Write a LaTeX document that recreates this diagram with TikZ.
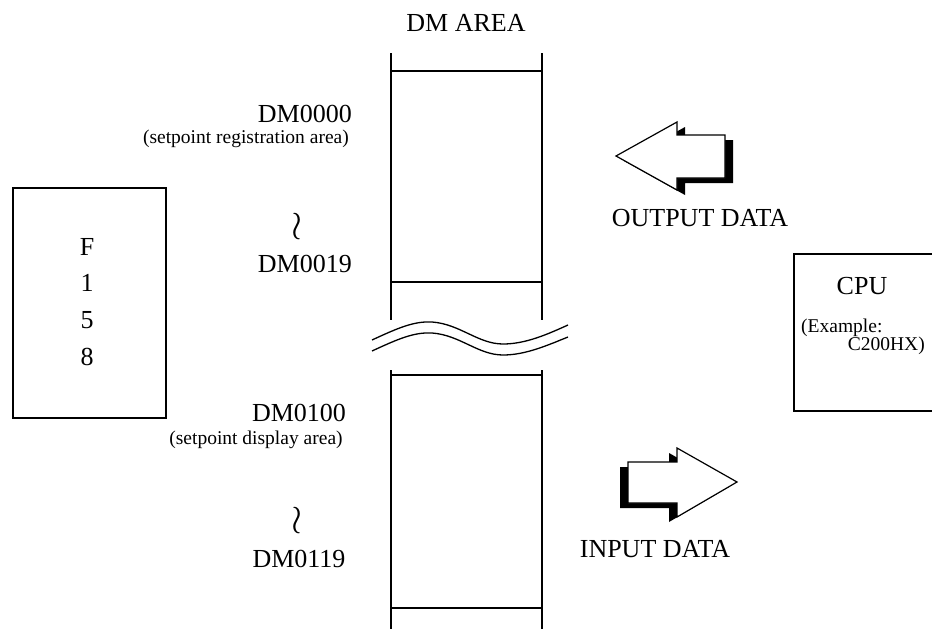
\documentclass[tikz,border=0pt]{standalone}
\usepackage{fontspec}
\setmainfont{Liberation Serif}
\begin{document}
\begin{tikzpicture}[x=1pt,y=-1pt,
  big/.style={font=\fontsize{26}{30}\selectfont, inner sep=0pt},
  small/.style={font=\fontsize{19.5}{23}\selectfont, inner sep=0pt},
  col/.style={line width=1.3pt},
  boxline/.style={line width=1.7pt},
  fatarrow/.style={fill=white, draw=black, line width=1.2pt, line join=miter},
  shadow/.style={fill=black},
  wr/.style={inner sep=0pt, font=\fontsize{26}{30}\selectfont}
]
\useasboundingbox (0,0) rectangle (932,629);

% DM area column
\node[big] (title) at (466,23) {DM AREA};
\coordinate (ut1) at (391,53);
\coordinate (ut2) at (542,53);
\coordinate (ub1) at (391,320);
\coordinate (ub2) at (542,320);
\draw[col] (ut1) -- (ub1);
\draw[col] (ut2) -- (ub2);
\draw[col] (391,71) -- (542,71);
\draw[col] (391,282) -- (542,282);
\coordinate (lt1) at (391,370);
\coordinate (lt2) at (542,370);
\draw[col] (lt1) -- (391,629);
\draw[col] (lt2) -- (542,629);
\draw[col] (391,375) -- (542,375);
\draw[col] (391,608) -- (542,608);

% break waves
\draw[line width=1.3pt] (372,340) .. controls (398,328) and (414,321) .. (432,322)
  .. controls (460,324) and (478,344) .. (503,344)
  .. controls (526,344) and (548,334) .. (568,325);
\draw[line width=1.3pt] (372,351) .. controls (398,339) and (414,332) .. (432,333)
  .. controls (460,335) and (478,355) .. (503,355)
  .. controls (526,355) and (548,345) .. (568,337);

% labels left of column
\node[big, anchor=east] (dm0000) at (352,114) {DM0000};
\node[small, anchor=east] (reg) at (349,139) {(setpoint registration area)};
\node[wr] (w1) at (297,227) {\scalebox{1.6}{$\wr$}};
\node[big, anchor=east] (dm0019) at (352,264) {DM0019};
\node[big] (dm0100) at (299,413) {DM0100};
\node[small] (disp) at (256,440) {(setpoint display area)};
\node[wr] (w2) at (297,521) {\scalebox{1.6}{$\wr$}};
\node[big] (dm0119) at (299,559) {DM0119};

% F158 box
\draw[boxline] (13,188) rectangle (166,418);
\node[big] (f) at (87,247) {F};
\node[big] (n1) at (87,283) {1};
\node[big] (n5) at (87,320) {5};
\node[big] (n8) at (87,357) {8};

% CPU box (right side cut off)
\draw[boxline] (940,254) -- (794,254) -- (794,411) -- (940,411);
\node[big] (cpu) at (862,286) {CPU};
\node[small, anchor=west] (ex1) at (801,328) {(Example:};
\node[small, anchor=east] (ex2) at (925,346) {C200HX)};

% output arrow (pointing left)
\begin{scope}[shift={(8,5)}]
\fill[shadow] (616,156) -- (677,122) -- (677,135) -- (725,135) -- (725,178) -- (677,178) -- (677,190) -- cycle;
\end{scope}
\draw[fatarrow] (616,156) -- (677,122) -- (677,135) -- (725,135) -- (725,178) -- (677,178) -- (677,190) -- cycle;
\node[big] (out) at (700,218) {OUTPUT DATA};

% input arrow (pointing right)
\begin{scope}[shift={(-8,5)}]
\fill[shadow] (737,482) -- (677,448) -- (677,462) -- (628,462) -- (628,503) -- (677,503) -- (677,517) -- cycle;
\end{scope}
\draw[fatarrow] (737,482) -- (677,448) -- (677,462) -- (628,462) -- (628,503) -- (677,503) -- (677,517) -- cycle;
\node[big] (in) at (655,549) {INPUT DATA};
\end{tikzpicture}
\end{document}
